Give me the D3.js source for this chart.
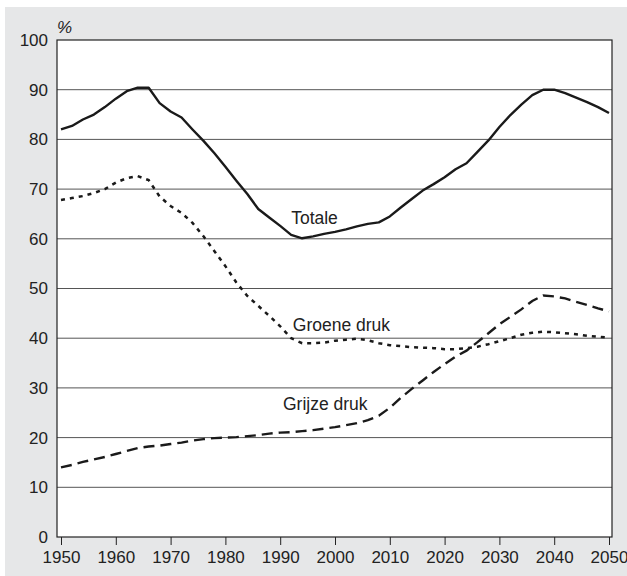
<!DOCTYPE html>
<html><head><meta charset="utf-8">
<script src="https://cdn.jsdelivr.net/npm/d3@7"></script>
<style>html,body{margin:0;padding:0;background:#fff;}svg{display:block;}</style>
</head><body>
<script>
const years = d3.range(1950, 2051, 2);
const totale = [82.0,82.7,84.0,85.0,86.5,88.2,89.7,90.4,90.4,87.3,85.6,84.4,82.0,79.7,77.2,74.5,71.7,69.0,66.0,64.3,62.6,60.8,60.1,60.5,61.0,61.4,61.9,62.5,63.0,63.3,64.5,66.3,68.0,69.7,71.0,72.4,74.0,75.2,77.5,79.8,82.5,84.9,87.0,88.9,90.0,90.0,89.3,88.4,87.5,86.5,85.3];
const groene = [67.8,68.2,68.6,69.2,70.0,71.3,72.2,72.6,71.8,68.5,66.6,65.2,63.2,60.5,57.5,54.5,51.2,48.5,46.5,44.5,42.4,40.0,39.0,39.0,39.1,39.5,39.7,39.9,39.6,39.0,38.6,38.4,38.2,38.1,38.0,37.8,37.8,38.0,38.3,38.8,39.4,40.0,40.7,41.1,41.3,41.2,41.0,40.8,40.5,40.3,40.1];
const grijze = [14.0,14.5,15.1,15.6,16.1,16.7,17.3,17.9,18.2,18.4,18.7,19.0,19.4,19.7,19.9,20.0,20.1,20.3,20.5,20.8,21.0,21.1,21.3,21.5,21.8,22.1,22.5,22.9,23.5,24.4,26.0,28.0,29.8,31.5,33.2,34.8,36.3,37.5,39.2,41.0,42.8,44.3,45.8,47.5,48.6,48.4,48.0,47.3,46.7,46.0,45.4];
const xTicks = d3.range(1950, 2051, 10);
const yTicks = d3.range(0, 101, 10);
const seriesNames = ["Totale", "Groene druk", "Grijze druk"];

const W = 627, H = 576;
const PL = 57, PR = 612, PT = 40, PB = 537;
const svg = d3.select("body").append("svg").attr("width", W).attr("height", H);
svg.append("rect").attr("x", 5).attr("y", 7).attr("width", W - 5).attr("height", H - 7).attr("fill", "#e6e7e8");
svg.append("rect").attr("x", PL).attr("y", PT).attr("width", PR - PL).attr("height", PB - PT).attr("fill", "#fff");

const x = d3.scaleLinear().domain([1950, 2050]).range([61, 609]);
const y = d3.scaleLinear().domain([0, 100]).range([PB, PT]);
const font = "'Liberation Sans', Arial, sans-serif";

svg.append("g").selectAll("line").data(yTicks.filter(d => d > 0 && d < 100)).join("line")
  .attr("x1", PL).attr("x2", PR).attr("y1", d => y(d)).attr("y2", d => y(d))
  .attr("stroke", "#555").attr("stroke-width", 1);

svg.append("rect").attr("x", PL).attr("y", PT).attr("width", PR - PL).attr("height", PB - PT)
  .attr("fill", "none").attr("stroke", "#222").attr("stroke-width", 1.2);

const xa = svg.append("g").attr("transform", `translate(0,${PB})`)
  .call(d3.axisBottom(x).tickValues(xTicks).tickFormat(d3.format("d")).tickSize(8).tickPadding(6));
xa.select(".domain").remove();
xa.selectAll("line").attr("stroke", "#222");
xa.selectAll("text").attr("font-family", font).attr("font-size", 17).attr("fill", "#222");

const ya = svg.append("g").attr("transform", `translate(${PL},0)`)
  .call(d3.axisLeft(y).tickValues(yTicks).tickSize(0).tickPadding(9));
ya.select(".domain").remove();
ya.selectAll("text").attr("font-family", font).attr("font-size", 17).attr("fill", "#222");

svg.append("text").attr("x", 57).attr("y", 33).text("%")
  .attr("font-family", font).attr("font-size", 17).attr("font-style", "italic").attr("fill", "#222");

const line = d3.line().x((d, i) => x(years[i])).y(d => y(d));
svg.append("path").attr("d", line(totale)).attr("fill", "none").attr("stroke", "#1a1a1a").attr("stroke-width", 2.4).attr("stroke-linejoin", "round");
svg.append("path").attr("d", line(groene)).attr("fill", "none").attr("stroke", "#1a1a1a").attr("stroke-width", 2.5).attr("stroke-dasharray", "4,5");
svg.append("path").attr("d", line(grijze)).attr("fill", "none").attr("stroke", "#1a1a1a").attr("stroke-width", 2.4).attr("stroke-dasharray", "11,6");

const labels = [
  {t: seriesNames[0], yr: 1992, v: 63},
  {t: seriesNames[1], yr: 1992.3, v: 41.5},
  {t: seriesNames[2], yr: 1990.5, v: 25.5}
];
svg.append("g").selectAll("text").data(labels).join("text")
  .attr("x", d => x(d.yr)).attr("y", d => y(d.v)).text(d => d.t)
  .attr("font-family", font).attr("font-size", 17.5).attr("fill", "#222");
</script>
</body></html>
